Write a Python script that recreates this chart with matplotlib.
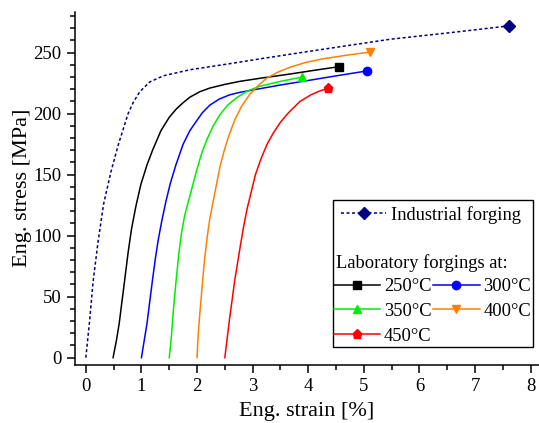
import matplotlib
matplotlib.use("Agg")
from matplotlib import pyplot as plt
from matplotlib.lines import Line2D
from matplotlib.patches import Rectangle
from matplotlib.ticker import MultipleLocator

plt.rcParams['font.family'] = ['Liberation Serif', 'DejaVu Serif']

# industrial forging curve
ind_x = [0, 0.07, 0.13, 0.22, 0.32, 0.45, 0.58, 0.67, 0.76, 0.85, 0.97, 1.15, 1.39, 1.87,
         2.59, 3.07, 4.0, 5.47, 6.67, 7.61]
ind_y = [0, 31, 62, 95, 126, 152, 174, 187, 200, 209, 218, 226, 231, 236,
         241, 244.5, 251, 261, 267, 272]

# laboratory forgings
x_250 = [0.49, 0.55, 0.60, 0.65, 0.70, 0.76, 0.82, 0.90, 0.99, 1.1, 1.2, 1.35, 1.5, 1.63,
         1.75, 1.87, 2.05, 2.23, 2.5, 2.77, 3.13, 3.67, 4.1, 4.55]
y_250 = [0, 14, 28, 46, 64, 86, 105, 124, 142, 158, 170, 186, 197, 204,
         209, 213.5, 218, 221, 224, 226.5, 229, 232.5, 235.5, 238.5]
x_300 = [1.0, 1.05, 1.10, 1.15, 1.20, 1.25, 1.30, 1.37, 1.44, 1.52, 1.62, 1.75, 1.87, 1.99,
         2.1, 2.23, 2.4, 2.59, 2.77, 3.07, 3.5, 3.97, 4.5, 5.05]
y_300 = [0, 14, 28, 46, 64, 81, 96, 113, 128, 143, 158, 175, 186, 194,
         201, 207, 212, 215.5, 217.5, 220, 223.5, 227, 231, 235]
x_350 = [1.50, 1.54, 1.57, 1.60, 1.63, 1.67, 1.72, 1.78, 1.85, 1.92, 1.99, 2.08, 2.17, 2.29,
         2.41, 2.55, 2.71, 2.9, 3.13, 3.5, 3.89]
y_350 = [0, 18, 36, 52, 66, 84, 102, 117, 129, 141, 153, 167, 178, 190,
         199, 207, 213, 218.5, 222.5, 226.5, 230]
x_400 = [2.0, 2.02, 2.05, 2.08, 2.11, 2.14, 2.18, 2.23, 2.29, 2.35, 2.41, 2.49, 2.58, 2.68,
         2.8, 2.95, 3.1, 3.25, 3.45, 3.67, 3.95, 4.27, 4.7, 5.11]
y_400 = [0, 18, 36, 52, 68, 82, 98, 114, 128, 142, 156, 170, 183, 195,
         206, 216, 223, 229, 234, 238, 242, 245, 248, 250.5]
x_450 = [2.5, 2.54, 2.58, 2.63, 2.68, 2.73, 2.78, 2.84, 2.9, 2.97, 3.05, 3.15, 3.26, 3.37,
         3.5, 3.65, 3.85, 4.05, 4.2, 4.36]
y_450 = [0, 15, 30, 47, 64, 78, 92, 108, 122, 135, 150, 163, 175, 184,
         193, 201, 210, 215.5, 218.5, 221]

labels = ['250°C', '300°C', '350°C', '400°C', '450°C']
colors = ['black', '#0000ff', '#00ee00', '#ff8000', '#ff0000']
markers = ['s', 'o', '^', 'v', 'p']
msizes = [5.5, 6, 6, 6, 6.5]

fig = plt.figure(figsize=(5.39, 4.23), dpi=100)
ax = fig.add_axes([74.7/539, 58.5/423, 1 - 74.7/539, (411.3-58.5)/423])

ax.plot(ind_x, ind_y, color='#000080', lw=1.1, ls=(0, (2, 1.6)),
        marker='D', markevery=[-1], ms=6, clip_on=False)

lab_x = [x_250, x_300, x_350, x_400, x_450]
lab_y = [y_250, y_300, y_350, y_400, y_450]
for xs, ys, c, m, s in zip(lab_x, lab_y, colors, markers, msizes):
    ax.plot(xs, ys, color=c, lw=1.1, marker=m, markevery=[-1], ms=s)

ax.set_xlim(-0.2, 8.15)
ax.set_ylim(-5.6, 283.6)
ax.spines['top'].set_visible(False)
ax.spines['right'].set_visible(False)
ax.spines['left'].set_linewidth(1.1)
ax.spines['bottom'].set_linewidth(1.1)
ax.xaxis.set_major_locator(MultipleLocator(1))
ax.xaxis.set_minor_locator(MultipleLocator(0.5))
ax.yaxis.set_major_locator(MultipleLocator(50))
ax.yaxis.set_minor_locator(MultipleLocator(10))
ax.tick_params(which='major', direction='out', length=6, width=1.1, labelsize=13.5)
ax.tick_params(which='minor', direction='out', length=3.5, width=1.1)
ax.set_xlabel('Eng. strain [%]', fontsize=16, labelpad=5)
ax.set_ylabel('Eng. stress [MPa]', fontsize=16, labelpad=1)

# legend box (drawn by hand, two groups inside)
fig.patches.append(Rectangle((333.3/539, 1 - 346.7/423), 200/539, 146.7/423,
                             transform=fig.transFigure, fill=False, ec='black', lw=1.0))
h_ind = Line2D([], [], color='#000080', lw=1.1, ls=(0, (2, 1.6)), marker='D', ms=6)
fig.legend([h_ind], ['Industrial forging'], loc='center left',
           bbox_to_anchor=(334/539, 1 - 215/423), frameon=False,
           fontsize=13.3, handlelength=2.4, handletextpad=0.3, borderaxespad=0)
fig.text(336/539, 1 - 263/423, 'Laboratory forgings at:', fontsize=13.3, va='center')
hs = [Line2D([], [], color=c, lw=1.1, marker=m, ms=s) for c, m, s in zip(colors, markers, msizes)]
order = [0, 2, 4, 1, 3]
fig.legend([hs[i] for i in order], [labels[i] for i in order], ncol=2, loc='upper left',
           bbox_to_anchor=(334/539, 1 - 278/423), frameon=False, fontsize=13.3,
           handlelength=2.5, handletextpad=0.2, columnspacing=0.1, labelspacing=0.42,
           borderaxespad=0, borderpad=0)

fig.savefig('out.png', dpi=100)
